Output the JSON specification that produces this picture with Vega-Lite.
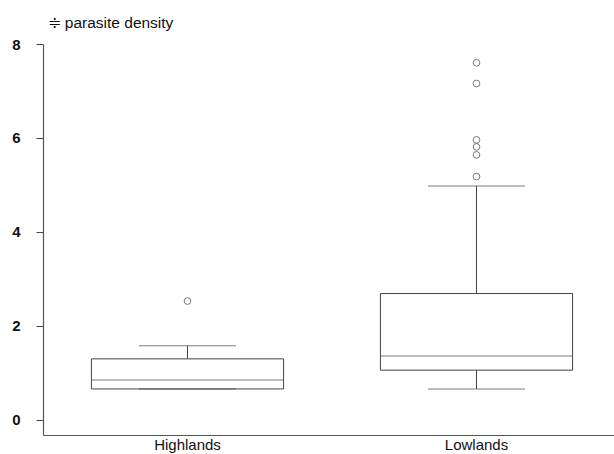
{
  "$schema": "https://vega.github.io/schema/vega-lite/v6.json",
  "width": 578,
  "height": 391,
  "autosize": "none",
  "padding": {"left": 43, "top": 44, "right": 0, "bottom": 19},
  "background": "white",
  "config": {
    "view": {"stroke": null},
    "font": "Liberation Sans"
  },
  "datasets": {
    "boxes": [
      {"region": "Highlands", "lower": 0.66, "q1": 0.66, "median": 0.85, "q3": 1.30, "upper": 1.58},
      {"region": "Lowlands", "lower": 0.66, "q1": 1.06, "median": 1.36, "q3": 2.69, "upper": 4.98}
    ],
    "outliers": [
      {"region": "Highlands", "value": 2.53},
      {"region": "Lowlands", "value": 5.18},
      {"region": "Lowlands", "value": 5.64},
      {"region": "Lowlands", "value": 5.81},
      {"region": "Lowlands", "value": 5.96},
      {"region": "Lowlands", "value": 7.16},
      {"region": "Lowlands", "value": 7.6}
    ]
  },
  "encoding": {
    "x": {
      "field": "region", "type": "nominal",
      "scale": {"type": "band", "domain": ["Highlands", "Lowlands"], "paddingInner": 0, "paddingOuter": 0},
      "axis": {
        "title": null, "labelAngle": 0, "ticks": false, "labelPadding": 2,
        "labelFont": "Liberation Sans", "labelFontSize": 15, "labelColor": "#111",
        "domainColor": "#555", "domainWidth": 1.2, "grid": false
      }
    }
  },
  "layer": [
    {
      "data": {"name": "boxes"},
      "mark": {"type": "rule", "color": "#444", "strokeWidth": 1},
      "encoding": {
        "y": {
          "field": "lower", "type": "quantitative",
          "scale": {"domain": [-0.32, 8], "nice": false, "zero": false},
          "axis": {
            "values": [0, 2, 4, 6, 8], "grid": false, "tickSize": 7, "tickColor": "#444",
            "domainColor": "#555", "domainWidth": 1.2, "labelPadding": 16,
            "labelFont": "Liberation Sans", "labelFontSize": 15, "labelFontWeight": "bold", "labelColor": "#111",
            "title": "≑ parasite density", "titleAngle": 0, "titleAlign": "left", "titleBaseline": "middle",
            "titleX": 4, "titleY": -22, "titleFont": "Liberation Sans", "titleFontSize": 15.5,
            "titleFontWeight": "normal", "titleColor": "#111"
          }
        },
        "y2": {"field": "upper"}
      }
    },
    {
      "data": {"name": "boxes"},
      "mark": {"type": "bar", "fill": "white", "stroke": "#444", "strokeWidth": 1, "width": {"band": 0.665}},
      "encoding": {
        "y": {"field": "q1", "type": "quantitative"},
        "y2": {"field": "q3"}
      }
    },
    {
      "data": {"name": "boxes"},
      "mark": {"type": "tick", "color": "#444", "size": 192, "thickness": 1},
      "encoding": {"y": {"field": "median", "type": "quantitative"}}
    },
    {
      "data": {"name": "boxes"},
      "mark": {"type": "tick", "color": "#444", "size": 97, "thickness": 1},
      "encoding": {"y": {"field": "upper", "type": "quantitative"}}
    },
    {
      "data": {"name": "boxes"},
      "mark": {"type": "tick", "color": "#444", "size": 97, "thickness": 1},
      "encoding": {"y": {"field": "lower", "type": "quantitative"}}
    },
    {
      "data": {"name": "outliers"},
      "mark": {"type": "point", "shape": "circle", "filled": false, "color": "#444", "size": 45, "strokeWidth": 1},
      "encoding": {"y": {"field": "value", "type": "quantitative"}}
    }
  ]
}
